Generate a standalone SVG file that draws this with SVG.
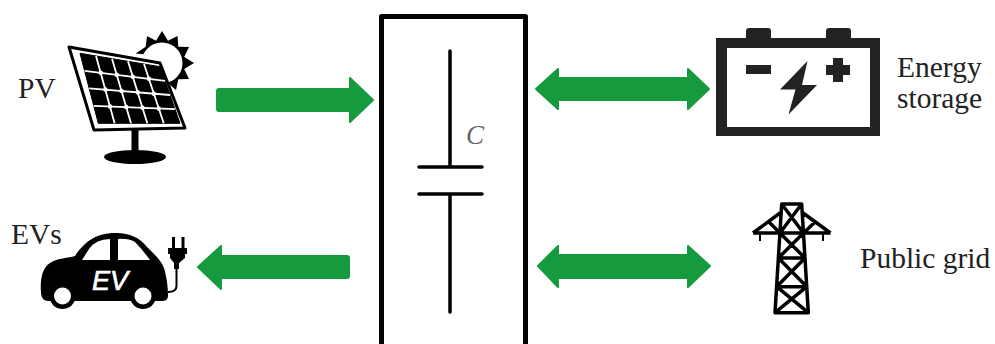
<svg xmlns="http://www.w3.org/2000/svg" width="995" height="344" viewBox="0 0 995 344">
<defs>
<style>
.lbl{font-family:"Liberation Serif","Times New Roman",serif;font-size:29.500px;fill:#222}
.arrow{fill:#169a3e;stroke:#169a3e;stroke-width:2;stroke-linejoin:round}
.ink{fill:#000}
.wire{fill:none;stroke:#000;stroke-linecap:round}
.bat{fill:#222}
</style>
</defs>
<rect width="995" height="344" fill="#fff"/>
<g id="converter">
<path d="M381.500 350V16.500H525.500V350" fill="none" stroke="#000" stroke-width="5" stroke-linejoin="round"/>
<path class="wire" stroke-width="3.500" d="M450 51V167M419 167H482M419 194H482M450 194V312"/>
<text x="466" y="144" font-family="Liberation Serif,serif" font-style="italic" font-size="27" fill="#666">C</text>
</g>
<g id="connectors">
<path class="arrow" d="M219 89H350V78L373 100L350 122V111H219Q217 111 217 109V91Q217 89 219 89Z"/>
<path class="arrow" d="M536 89L558 69V78H688V69L709 89L688 109V100H558V109Z"/>
<path class="arrow" d="M538 266L558 246V255H688V246L710 266L688 287V278H558V287Z"/>
<path class="arrow" d="M198 267L221 246V256H347Q349 256 349 258V276Q349 278 347 278H221V289Z"/>
</g>
<g id="pv">
<text class="lbl" x="18" y="98">PV</text>
<path class="ink" d="M135.700 53.400L145.700 46.700L147 36L156 40.800L162 31L168 40.800L177.500 36L178.300 46.700L189 47L184.200 57L194 63L184.200 69L189 79L178.300 79.300L176 90L167.300 82.800A20.500 20.500 0 1 0 143.400 54.300Z"/>
<path d="M69 47L160 63L185 128L94 130Z" fill="#fff" stroke="#000" stroke-width="3" stroke-linejoin="round"/>
<path d="M80 53.300L160 66.700L180 123.300L98.300 123.300Z" fill="#000" stroke="#000" stroke-linejoin="round"/>
<path fill="none" stroke="#fff" stroke-width="1.800" d="M96 56L114.600 123.300M112 58.700L131 123.300M128 61.300L147.300 123.300M144 64L163.700 123.300M84.600 70.800L165 80.900M89.200 88.300L170 95M93.700 105.800L175 109.200"/>
<path fill="none" stroke="#fff" stroke-width="4.500" stroke-linecap="round" d="M100.700 72.800h0M116.800 74.800h0M132.800 76.800h0M148.900 78.800h0M105.400 89.600h0M121.500 91h0M137.700 92.300h0M153.900 93.700h0M110 106.500h0M126.200 107.100h0M142.500 107.800h0M158.700 108.500h0"/>
<rect class="ink" x="131.500" y="130" width="7" height="24"/>
<ellipse class="ink" cx="135" cy="157" rx="31" ry="7"/>
</g>
<g id="ev">
<text class="lbl" x="11" y="244">EVs</text>
<path class="ink" d="M41 292C40 280 42 268 50 263C58 258 68 258 75 256C84 243 94 233 116 233C130 233 140 238 147 247C154 254 161 260 164 268C167 278 168 288 168 295C168 300 166 301 160 301H48C44 301 41 298 41 292Z"/>
<path d="M82 260L89 249Q96 239 110 239V260Z M118 239Q128 238 135 242Q142 249 150 260H118Z" fill="#fff"/>
<circle class="ink" cx="62.500" cy="296" r="13"/><circle cx="62.500" cy="296" r="8.500" fill="#fff"/>
<circle class="ink" cx="143" cy="296" r="13"/><circle cx="143" cy="296" r="8.500" fill="#fff"/>
<text x="92" y="290" font-family="Liberation Sans,sans-serif" font-style="italic" font-size="27" fill="#fff" stroke="#fff" stroke-width="0.700">EV</text>
<path d="M176.500 262V286Q176.500 292 168 292" fill="none" stroke="#000" stroke-width="2"/>
<path class="ink" d="M168 248H187V254H185V258L179 263V269H174V263L170 258V254H168Z"/>
<rect class="ink" x="172" y="237" width="3" height="11"/>
<rect class="ink" x="181.500" y="237" width="3" height="11"/>
</g>
<g id="storage">
<path class="bat" fill-rule="evenodd" d="M716 38H746V31Q746 28 749 28H768Q771 28 771 31V38H826V31Q826 28 829 28H848Q851 28 851 31V38H880V136H716ZM727 48V127H870V48Z"/>
<rect class="bat" x="746" y="65" width="25" height="9"/>
<path class="bat" d="M833 58H843V65H850V75H843V82H833V75H826V65H833Z"/>
<path class="bat" d="M807.500 61L780 89.500H795.500L788.500 114.500L817 85H802Z"/>
<text class="lbl" x="897" y="77">Energy</text>
<text class="lbl" x="897" y="108">storage</text>
</g>
<g id="grid">
<path fill="none" stroke="#000" stroke-width="3.500" stroke-linejoin="round" d="M781.700 204H801.700L808.300 312.700H775ZM781.700 204L803.500 233M801.700 204L779.900 233M779.900 233H803.500M779.900 233L805 258M803.500 233L778.400 258M778.400 258H805M778.400 258L806.800 286.700M805 258L776.600 286.700M776.600 286.700H806.800M776.600 286.700L808.300 312.700M806.800 286.700L775 312.700M753 233H830.500M753 233L780 213M830.500 233L803 213M769 222L780 233M815 222L803.500 233"/>
<path fill="none" stroke="#000" stroke-width="2" d="M760 233V241M823 233V241"/>
<text class="lbl" x="860" y="268">Public grid</text>
</g>
</svg>
